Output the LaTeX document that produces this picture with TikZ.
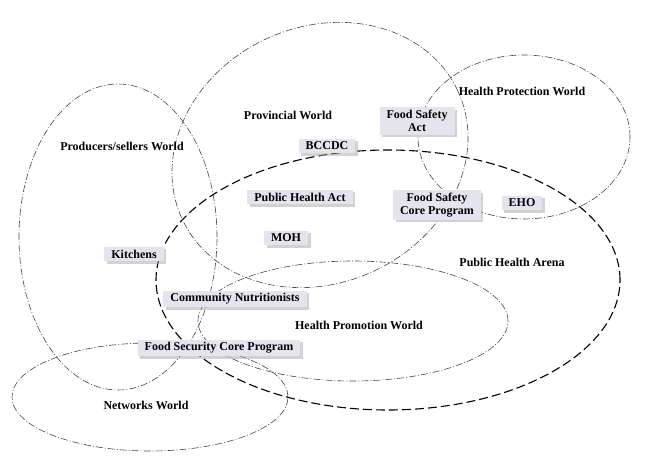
\documentclass[tikz,border=0pt]{standalone}
\usepackage{fontspec}
\setmainfont{Liberation Serif}
\usetikzlibrary{shadows}
\definecolor{boxfill}{RGB}{228,228,238}
\definecolor{linegray}{RGB}{70,70,70}
\tikzset{
  world/.style={draw=linegray, line width=0.6pt, dash pattern=on 7pt off 2pt on 1pt off 2pt},
  arena/.style={draw=black, line width=1.1pt, dash pattern=on 9pt off 4pt},
  lbl/.style={font=\fontsize{12}{12.5}\selectfont\bfseries, inner sep=0pt},
  tag/.style={font=\fontsize{12}{12.5}\selectfont\bfseries, fill=boxfill, inner xsep=7pt, inner ysep=3pt, align=center,
    drop shadow={shadow xshift=2.5pt, shadow yshift=-2.5pt, fill=black!35}}
}
\begin{document}
\begin{tikzpicture}[x=1pt,y=-1pt]
\useasboundingbox (0,0) rectangle (653,476);
% worlds
\draw[world] (118,237) ellipse [x radius=99pt, y radius=153pt];
\draw[world] (320,155) ellipse [x radius=152pt, y radius=128pt, rotate=25];
\draw[world] (524,137) ellipse [x radius=106pt, y radius=82pt];
\draw[world] (353,321) ellipse [x radius=155pt, y radius=60pt];
\draw[world] (150,397) ellipse [x radius=138pt, y radius=54pt];
\draw[arena] (388,280) ellipse [x radius=232pt, y radius=130pt];
% world labels
\node[lbl] (provlbl) at (288,115) {Provincial World};
\node[lbl] (prodlbl) at (122,146) {Producers/sellers World};
\node[lbl] (hprotlbl) at (522,91) {Health Protection World};
\node[lbl] (arenalbl) at (512,262) {Public Health Arena};
\node[lbl] (hpromlbl) at (359,325) {Health Promotion World};
\node[lbl] (netlbl) at (146,405) {Networks World};
% boxes
\node[tag] (fsa) at (417,121) {Food Safety\\Act};
\node[tag] (bccdc) at (327,146) {BCCDC};
\node[tag] (pha) at (300,197) {Public Health Act};
\node[tag] (moh) at (286,238) {MOH};
\node[tag] (fscp) at (437,205) {Food Safety\\Core Program};
\node[tag] (eho) at (522,203) {EHO};
\node[tag] (kit) at (134,254) {Kitchens};
\node[tag] (cn) at (235,299) {Community Nutritionists};
\node[tag] (fsec) at (219,348) {Food Security Core Program};
\end{tikzpicture}
\end{document}
